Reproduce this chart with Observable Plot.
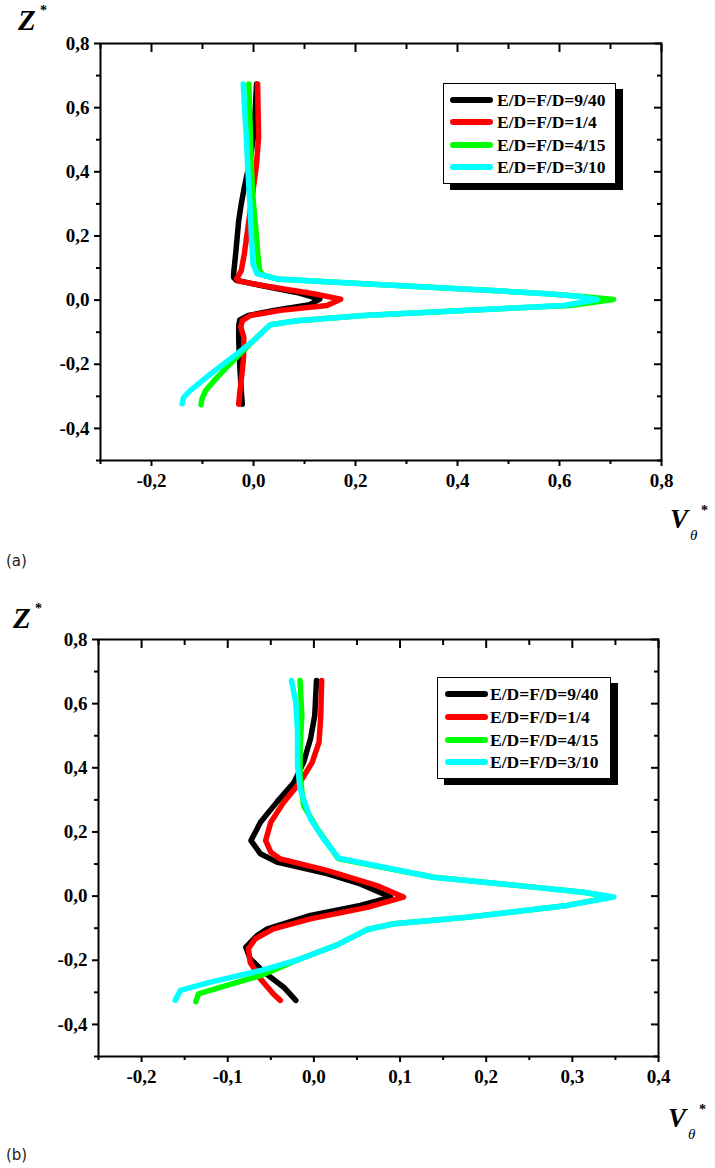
<!DOCTYPE html>
<html><head><meta charset="utf-8">
<script src="https://cdn.jsdelivr.net/npm/d3@7"></script>
<script src="https://cdn.jsdelivr.net/npm/@observablehq/plot@0.6"></script>
<style>
html,body{margin:0;padding:0;background:#fff}
body{width:715px;height:1168px;position:relative;overflow:hidden}
.panel{position:absolute;left:0;width:715px;height:584px}
.panel svg text{font-family:"Liberation Serif","Times New Roman",serif;font-weight:bold;font-size:19px}
.legend{position:absolute;border:1px solid #000;background:#fff;box-shadow:7px 6px 0 #000;box-sizing:border-box}
.sw{position:absolute;width:43px;height:6px;border-radius:3px}
.lt{position:absolute;font:bold 17.5px "Liberation Serif","Times New Roman",serif;color:#000;white-space:nowrap;line-height:20px}
#over{position:absolute;left:0;top:0}
#over .ser{font-family:"Liberation Serif","Times New Roman",serif}
#over .bi{font-weight:bold;font-style:italic}
#over .b{font-weight:bold}
#over .i{font-style:italic}
#over .sans{font-family:"DejaVu Sans",sans-serif}
</style></head>
<body>
<div id="pa" class="panel" style="top:0"></div>
<div id="pb" class="panel" style="top:584px"></div>
<svg id="over" width="715" height="1168"></svg>
<script>
// ---- data ----
const seriesNames = ["E/D=F/D=9/40", "E/D=F/D=1/4", "E/D=F/D=4/15", "E/D=F/D=3/10"];
const seriesColors = ["#000000", "#ff0000", "#00ff00", "#00ffff"];

// panel (a): [V_theta*, Z*]
const a_9_40 = [[0.006,0.674],[0.004,0.612],[0.0,0.508],[-0.005,0.456],[-0.011,0.404],[-0.018,0.352],[-0.024,0.30],[-0.029,0.248],[-0.032,0.196],[-0.035,0.144],[-0.039,0.082],[-0.039,0.071],[-0.034,0.062],[0.01,0.047],[0.09,0.022],[0.13,0.003],[0.11,-0.014],[0.04,-0.032],[-0.01,-0.048],[-0.027,-0.062],[-0.029,-0.08],[-0.029,-0.116],[-0.028,-0.17],[-0.026,-0.23],[-0.024,-0.28],[-0.022,-0.325]];
const a_1_4 = [[0.008,0.674],[0.010,0.508],[0.006,0.425],[0.0,0.352],[-0.009,0.248],[-0.018,0.144],[-0.024,0.092],[-0.033,0.066],[-0.03,0.06],[0.02,0.045],[0.118,0.02],[0.171,0.003],[0.144,-0.017],[0.053,-0.032],[-0.006,-0.048],[-0.022,-0.064],[-0.025,-0.084],[-0.019,-0.116],[-0.019,-0.147],[-0.020,-0.19],[-0.024,-0.25],[-0.027,-0.29],[-0.029,-0.325]];
const a_4_15 = [[-0.009,0.674],[-0.008,0.612],[-0.006,0.508],[-0.004,0.404],[0.0,0.30],[0.006,0.196],[0.009,0.134],[0.012,0.092],[0.02,0.077],[0.046,0.066],[0.216,0.051],[0.412,0.035],[0.576,0.02],[0.645,0.011],[0.706,0.002],[0.62,-0.017],[0.412,-0.032],[0.216,-0.048],[0.086,-0.064],[0.033,-0.077],[0.0,-0.126],[-0.039,-0.188],[-0.071,-0.240],[-0.094,-0.282],[-0.101,-0.308],[-0.103,-0.326]];
const a_3_10 = [[-0.020,0.674],[-0.018,0.612],[-0.014,0.508],[-0.011,0.404],[-0.007,0.30],[-0.004,0.196],[-0.001,0.113],[0.007,0.082],[0.02,0.077],[0.046,0.066],[0.216,0.051],[0.412,0.035],[0.576,0.02],[0.641,0.011],[0.674,0.002],[0.608,-0.017],[0.412,-0.032],[0.216,-0.048],[0.086,-0.064],[0.033,-0.077],[0.0,-0.126],[-0.032,-0.167],[-0.084,-0.230],[-0.124,-0.282],[-0.137,-0.303],[-0.140,-0.323]];

// panel (b)
const b_9_40 = [[0.003,0.672],[0.001,0.563],[-0.004,0.490],[-0.012,0.417],[-0.023,0.355],[-0.043,0.293],[-0.062,0.230],[-0.073,0.173],[-0.062,0.132],[-0.043,0.106],[0.015,0.070],[0.054,0.038],[0.089,-0.003],[0.054,-0.029],[-0.004,-0.060],[-0.054,-0.102],[-0.066,-0.123],[-0.079,-0.159],[-0.074,-0.195],[-0.058,-0.237],[-0.035,-0.284],[-0.021,-0.325]];
const b_1_4 = [[0.009,0.672],[0.008,0.563],[0.006,0.480],[-0.002,0.417],[-0.016,0.355],[-0.035,0.293],[-0.050,0.230],[-0.056,0.173],[-0.050,0.137],[-0.039,0.116],[0.015,0.080],[0.073,0.033],[0.104,-0.003],[0.062,-0.035],[-0.004,-0.071],[-0.047,-0.102],[-0.068,-0.133],[-0.076,-0.164],[-0.074,-0.206],[-0.062,-0.258],[-0.047,-0.305],[-0.039,-0.325]];
const b_4_15 = [[-0.016,0.672],[-0.014,0.563],[-0.016,0.459],[-0.016,0.376],[-0.012,0.282],[0.004,0.210],[0.027,0.121],[0.029,0.116],[0.139,0.059],[0.255,0.028],[0.313,0.012],[0.345,-0.003],[0.294,-0.029],[0.178,-0.066],[0.093,-0.086],[0.062,-0.104],[0.027,-0.152],[-0.020,-0.200],[-0.062,-0.248],[-0.108,-0.284],[-0.134,-0.305],[-0.137,-0.329]];
const b_3_10 = [[-0.026,0.672],[-0.021,0.604],[-0.019,0.511],[-0.019,0.407],[-0.016,0.334],[-0.004,0.241],[0.011,0.179],[0.029,0.118],[0.139,0.059],[0.255,0.028],[0.313,0.012],[0.348,-0.003],[0.294,-0.029],[0.178,-0.066],[0.093,-0.086],[0.062,-0.104],[0.027,-0.152],[-0.020,-0.200],[-0.062,-0.232],[-0.120,-0.268],[-0.155,-0.294],[-0.161,-0.325]];

// ticks
const yMajor = [-0.4,-0.2,0,0.2,0.4,0.6,0.8];
const yMinor = [-0.5,-0.3,-0.1,0.1,0.3,0.5,0.7];
const aXMajor = [-0.2,0,0.2,0.4,0.6,0.8];
const aXMinor = [-0.3,-0.1,0.1,0.3,0.5,0.7];
const bXMajor = [-0.2,-0.1,0,0.1,0.2,0.3,0.4];
const bXMinor = [-0.25,-0.15,-0.05,0.05,0.15,0.25,0.35];

const fmt = d => (Math.round(d*10)/10).toFixed(1).replace(".", ",");

function panel(series, xDomain, xMajor, xMinor, m) {
  const tk = {strokeWidth: 2, fill: "none", label: null};
  return Plot.plot({
    width: 715, height: 584,
    marginTop: m.top, marginBottom: m.bottom, marginLeft: m.left, marginRight: m.right,
    x: {domain: xDomain},
    y: {domain: [-0.5, 0.8]},
    style: "font-family:'Liberation Serif',serif;font-size:19px;font-weight:bold;color:#000;background:#fff;overflow:visible;",
    marks: [
      ...series.map((pts, i) => Plot.line(pts, {x: d => d[0], y: d => d[1], stroke: seriesColors[i], strokeWidth: 5.5, strokeLinecap: "round", strokeLinejoin: "round"})),
      Plot.frame({strokeWidth: 2}),
      Plot.axisX({anchor: "bottom", ticks: xMajor, tickSize: 6, tickPadding: 7, strokeWidth: 2, tickFormat: fmt, label: null}),
      Plot.axisX({anchor: "bottom", ticks: xMinor, tickSize: 4, ...tk}),
      Plot.axisX({anchor: "top", ticks: xMajor, tickSize: -8, ...tk}),
      Plot.axisX({anchor: "top", ticks: xMinor, tickSize: -5, ...tk}),
      Plot.axisY({anchor: "left", ticks: yMajor, tickSize: 6, tickPadding: 5, strokeWidth: 2, tickFormat: fmt, label: null}),
      Plot.axisY({anchor: "left", ticks: yMinor, tickSize: 4, ...tk}),
      Plot.axisY({anchor: "right", ticks: yMajor, tickSize: -8, ...tk}),
      Plot.axisY({anchor: "right", ticks: yMinor, tickSize: -5, ...tk})
    ]
  });
}

document.getElementById("pa").appendChild(
  panel([a_9_40, a_1_4, a_4_15, a_3_10], [-0.3, 0.8], aXMajor, aXMinor, {top: 43, bottom: 124, left: 100, right: 54}));
document.getElementById("pb").appendChild(
  panel([b_9_40, b_1_4, b_4_15, b_3_10], [-0.25, 0.4], bXMajor, bXMinor, {top: 55, bottom: 112, left: 98, right: 57}));

// legends
function legend(left, top, w, h, rows, lineX, textX) {
  const d = document.createElement("div");
  d.className = "legend";
  Object.assign(d.style, {left: left + "px", top: top + "px", width: w + "px", height: h + "px"});
  seriesNames.forEach((name, i) => {
    const cy = rows[i] - top - 1;
    const sw = document.createElement("div");
    sw.className = "sw";
    Object.assign(sw.style, {left: (lineX - left - 1) + "px", top: (cy - 3) + "px", background: seriesColors[i]});
    const t = document.createElement("div");
    t.className = "lt";
    t.textContent = name;
    Object.assign(t.style, {left: (textX - left - 1) + "px", top: (cy - 10) + "px"});
    d.appendChild(sw); d.appendChild(t);
  });
  document.body.appendChild(d);
}
legend(443, 83, 173, 101, [100, 122, 145, 167], 450, 497);
legend(437, 677, 174, 102, [694, 717, 740, 762], 445, 490);

// axis titles and panel labels
const over = d3.select("#over");
function txt(x, y, size, cls, s) {
  return over.append("text").attr("x", x).attr("y", y).attr("class", cls).style("font-size", size + "px").text(s);
}
function zTitle(x, y) {
  txt(x, y, 29, "ser bi", "Z");
  txt(x + 22, y - 15, 14, "ser b", "*");
}
function vTitle(x, y) {
  txt(x, y, 27, "ser bi", "V");
  txt(x + 20, y + 12, 15, "ser i", "θ");
  txt(x + 31, y - 13, 14, "ser b", "*");
}
zTitle(18, 30);
zTitle(13, 628);
vTitle(670, 528);
vTitle(668, 1127);
txt(6, 566, 15, "sans", "(a)").attr("fill", "#222");
txt(6, 1160, 15, "sans", "(b)").attr("fill", "#222");
</script>
</body></html>
